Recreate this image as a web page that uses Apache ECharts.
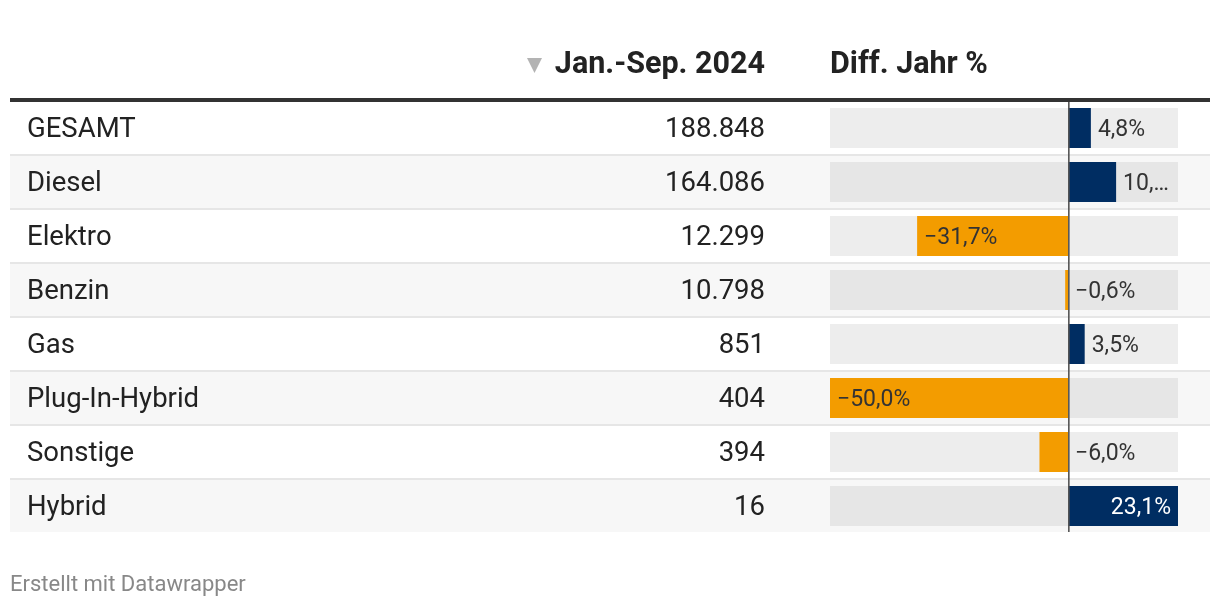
<!DOCTYPE html>
<html><head><meta charset="utf-8">
<script src="https://cdn.jsdelivr.net/npm/echarts@6/dist/echarts.min.js"></script>
<style>html,body{margin:0;padding:0;background:#fff}#c{width:1220px;height:608px}</style>
</head><body><div id="c"></div>
<script>
const categories = ['GESAMT','Diesel','Elektro','Benzin','Gas','Plug-In-Hybrid','Sonstige','Hybrid'];
const totals = [188848, 164086, 12299, 10798, 851, 404, 394, 16];
const diffPct = [4.8, 10.1, -31.7, -0.6, 3.5, -50.0, -6.0, 23.1];
const headers = ['Jan.-Sep. 2024', 'Diff. Jahr %'];
const footer = 'Erstellt mit Datawrapper';

const NAVY = '#002d62', ORANGE = '#f39c00';
const FONT_ROW = '27.5px Roboto', FONT_LBL = '23px Roboto', FONT_HEAD = 'bold 30.5px Roboto';
const axisMin = Math.min(...diffPct), axisMax = Math.max(...diffPct);

const mctx = document.createElement('canvas').getContext('2d');
function measure(t, f){ mctx.font = f; return mctx.measureText(t).width; }
function fmtInt(n){ return String(n).replace(/\B(?=(\d{3})+(?!\d))/g, '.'); }
function fmtPct(v){ return (v < 0 ? '\u2212' : '') + Math.abs(v).toFixed(1).replace('.', ',') + '%'; }

const chart = echarts.init(document.getElementById('c'), null, {renderer:'canvas'});
chart.setOption({
  animation: false,
  backgroundColor: '#fff',
  grid: {left: 830, width: 348, top: 102, height: 432},
  xAxis: {type:'value', min: axisMin, max: axisMax, show: false},
  yAxis: {type:'category', data: categories, inverse: true, show: false},
  graphic: [
    {type:'rect', shape:{x:10, y:98, width:1200, height:4}, style:{fill:'#333'}, z:100},
    {type:'polygon', shape:{points:[[527,58],[542,58],[534.5,73]]}, style:{fill:'#b3b3b3'}},
    {type:'text', x:765, y:65, style:{text: headers[0], font: FONT_HEAD, fill:'#222', align:'right', verticalAlign:'middle'}},
    {type:'text', x:830, y:65, style:{text: headers[1], font: FONT_HEAD, fill:'#222', align:'left', verticalAlign:'middle'}},
    {type:'text', x:10, y:585, style:{text: footer, font:'22px Roboto', fill:'#888', align:'left', verticalAlign:'middle'}}
  ],
  series: [{
    type: 'custom',
    clip: false,
    data: diffPct.map((v, i) => [v, i]),
    encode: {x: 0, y: 1},
    renderItem: function(params, api){
      const v = api.value(0), i = api.value(1);
      const p0 = api.coord([0, i]), pv = api.coord([v, i]);
      const xMin = api.coord([axisMin, i])[0], xMax = api.coord([axisMax, i])[0];
      const band = api.size([0, 1])[1];
      const yc = p0[1], top = yc - band/2;
      const x0 = p0[0], xv = pv[0];
      const alt = i % 2 === 1;
      const last = i === categories.length - 1;
      const children = [];
      children.push({type:'rect', shape:{x:10, y:top, width:1200, height: band - 2}, style:{fill: alt ? '#f7f7f7' : '#fff'}});
      if (!last) children.push({type:'rect', shape:{x:10, y:top+band-2, width:1200, height:2}, style:{fill:'#e6e6e6'}});
      children.push({type:'rect', shape:{x:xMin, y:top+6, width:xMax-xMin, height:40}, style:{fill: alt ? '#e6e6e6' : '#ededed'}});
      children.push({type:'rect', shape:{x:Math.min(x0, xv), y:top+6, width:Math.abs(xv-x0), height:40}, style:{fill: v < 0 ? ORANGE : NAVY}});
      const zx = x0 + 0.8;
      children.push({type:'line', shape:{x1:zx, y1:top, x2:zx, y2: last ? top+band-2 : top+band}, style:{stroke:'#555', lineWidth:1.6}});
      children.push({type:'text', style:{x:27, y:top+28, text: categories[i], font: FONT_ROW, fill:'#222', align:'left', verticalAlign:'middle'}});
      children.push({type:'text', style:{x:765, y:top+28, text: fmtInt(totals[i]), font: FONT_ROW, fill:'#222', align:'right', verticalAlign:'middle'}});
      const txt = fmtPct(v), lw = measure(txt, FONT_LBL), barW = Math.abs(xv - x0), pad = 7;
      let lab;
      if (v < 0) {
        if (lw + 2*pad <= barW) lab = {x: xv + pad, align:'left', fill:'#333'};
        else lab = {x: x0 + pad, align:'left', fill:'#333'};
      } else {
        if (lw + 2*pad <= barW) lab = {x: xv - pad, align:'right', fill:'#fff'};
        else lab = {x: xv + pad, align:'left', fill:'#333', width: xMax - (xv + pad) - 1, overflow:'truncate', ellipsis:'\u2026'};
      }
      children.push({type:'text', style: Object.assign({y: top+28.5, text: txt, font: FONT_LBL, verticalAlign:'middle'}, lab)});
      return {type:'group', children};
    }
  }]
});
</script>
</body></html>
